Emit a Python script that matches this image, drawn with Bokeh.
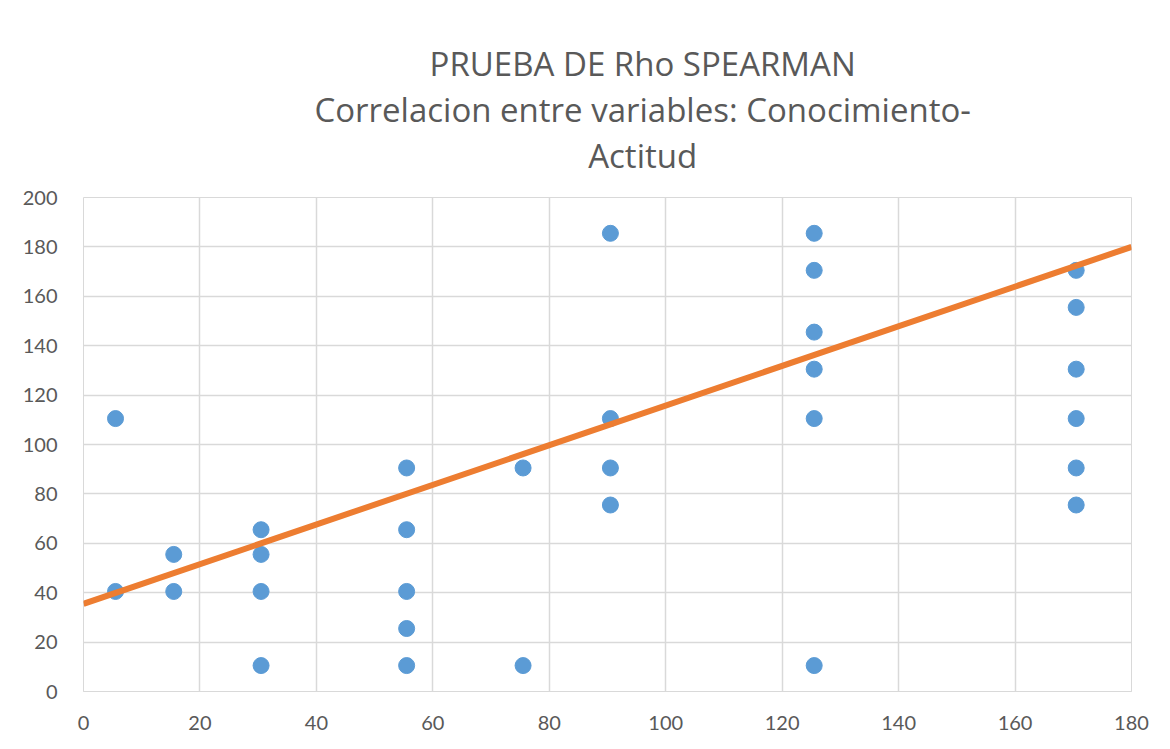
from bokeh.plotting import figure
from bokeh.models import FixedTicker, Range1d
from bokeh.layouts import column
from bokeh.core.properties import value
from bokeh.embed import file_html
from bokeh.resources import INLINE

# Ranked data (Conocimiento rank, Actitud rank)
conocimiento = [5.5, 5.5,
                15.5, 15.5,
                30.5, 30.5, 30.5, 30.5,
                55.5, 55.5, 55.5, 55.5, 55.5,
                75.5, 75.5,
                90.5, 90.5, 90.5, 90.5,
                125.5, 125.5, 125.5, 125.5, 125.5, 125.5,
                170.5, 170.5, 170.5, 170.5, 170.5, 170.5]
actitud = [110.5, 40.5,
           55.5, 40.5,
           65.5, 55.5, 40.5, 10.5,
           90.5, 65.5, 40.5, 25.5, 10.5,
           90.5, 10.5,
           185.5, 110.5, 90.5, 75.5,
           185.5, 170.5, 145.5, 130.5, 110.5, 10.5,
           170.5, 155.5, 130.5, 110.5, 90.5, 75.5]

trend_x = [0, 180]
trend_y = [35.5, 180.0]

x_ticks = [0, 20, 40, 60, 80, 100, 120, 140, 160, 180]
y_ticks = [0, 20, 40, 60, 80, 100, 120, 140, 160, 180, 200]

title_lines = ["PRUEBA DE Rho SPEARMAN",
               "Correlacion entre variables: Conocimiento-",
               "Actitud"]

FONT = "Lato"
TFONT = "Open Sans"
TXT = "#595959"
GRID = "#d9d9d9"
W = 1162
TH = 183

# ---- title panel ----
t = figure(width=W, height=TH, output_backend="svg", toolbar_location=None,
           x_range=Range1d(0, W), y_range=Range1d(TH, 0),
           min_border=0, x_axis_type=None, y_axis_type=None)
t.outline_line_color = None
t.grid.visible = False
t.text(x=[620, 620, 620], y=[63, 109, 155], text=title_lines,
       text_align="center", text_baseline="alphabetic",
       text_font=value(TFONT), text_font_size="33px", text_color=TXT)

# ---- main plot ----
p = figure(frame_width=1048, frame_height=494, output_backend="svg", toolbar_location=None,
           x_range=Range1d(0, 180), y_range=Range1d(0, 200),
           min_border_left=83, min_border_right=31, min_border_bottom=50,
           min_border_top=14)
p.background_fill_color = "white"
p.border_fill_color = "white"
p.outline_line_color = GRID

for ax in (p.xaxis[0], p.yaxis[0]):
    ax.major_tick_line_color = None
    ax.minor_tick_line_color = None
    ax.major_label_text_font = FONT
    ax.major_label_text_font_size = "20px"
    ax.major_label_text_color = TXT
p.xaxis.ticker = FixedTicker(ticks=x_ticks)
p.yaxis.ticker = FixedTicker(ticks=y_ticks)
p.xaxis.axis_line_color = GRID
p.yaxis.axis_line_color = None
p.xaxis.major_label_standoff = 18
p.yaxis.major_label_standoff = 20

p.xgrid.ticker = FixedTicker(ticks=x_ticks)
p.ygrid.ticker = FixedTicker(ticks=y_ticks)
p.grid.grid_line_color = GRID
p.grid.grid_line_width = 1.5

p.scatter(conocimiento, actitud, size=16, color="#5b9bd5", line_color="#5b9bd5")
p.line(trend_x, trend_y, line_color="#ed7d31", line_width=6)

layout = column(t, p, spacing=0)
open("out.html", "w").write(file_html(layout, INLINE))
